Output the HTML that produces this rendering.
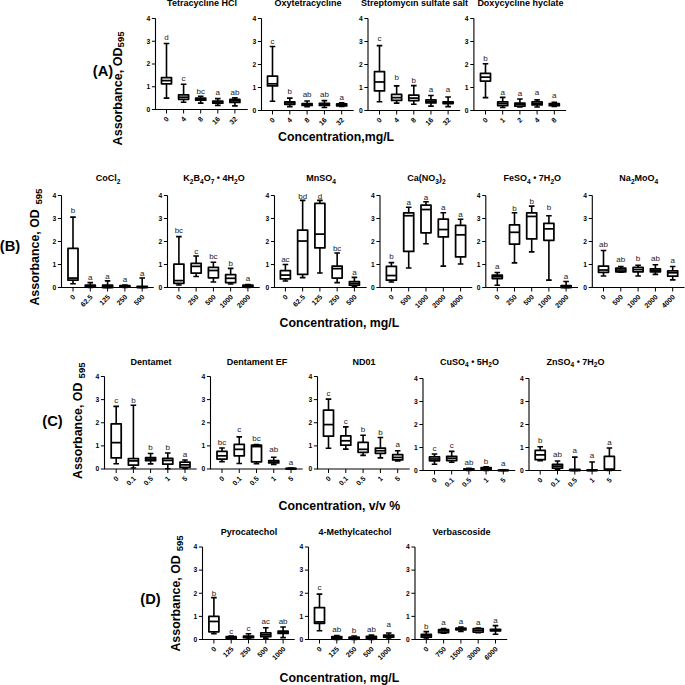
<!DOCTYPE html>
<html><head><meta charset="utf-8"><title>Figure</title>
<style>html,body{margin:0;padding:0;background:#fff;width:685px;height:685px;overflow:hidden}svg{display:block}text{font-family:"Liberation Sans",sans-serif}</style>
</head><body>
<svg width="685" height="685" viewBox="0 0 685 685" font-family='"Liberation Sans", sans-serif'>
<rect width="685" height="685" fill="#fff"/>
<path d="M155.5 18.5V109.5H247.7" fill="none" stroke="#000" stroke-width="1.1"/>
<path d="M151.9 109.5H155.5M151.9 86.75H155.5M151.9 64H155.5M151.9 41.25H155.5M151.9 18.5H155.5M166.5 109.5V113.5M183.6 109.5V113.5M200.7 109.5V113.5M217.8 109.5V113.5M234.9 109.5V113.5" fill="none" stroke="#000" stroke-width="1.0"/>
<text x="150.2" y="111.8" text-anchor="end" font-size="6.7" font-weight="bold">0</text>
<text x="150.2" y="89.05" text-anchor="end" font-size="6.7" font-weight="bold">1</text>
<text x="150.2" y="66.3" text-anchor="end" font-size="6.7" font-weight="bold">2</text>
<text x="150.2" y="43.55" text-anchor="end" font-size="6.7" font-weight="bold">3</text>
<text x="150.2" y="20.8" text-anchor="end" font-size="6.7" font-weight="bold">4</text>
<text transform="translate(169.3 119.6) rotate(-45)" text-anchor="end" font-size="7.0" font-weight="bold">0</text>
<text transform="translate(186.4 119.6) rotate(-45)" text-anchor="end" font-size="7.0" font-weight="bold">4</text>
<text transform="translate(203.5 119.6) rotate(-45)" text-anchor="end" font-size="7.0" font-weight="bold">8</text>
<text transform="translate(220.6 119.6) rotate(-45)" text-anchor="end" font-size="7.0" font-weight="bold">16</text>
<text transform="translate(237.7 119.6) rotate(-45)" text-anchor="end" font-size="7.0" font-weight="bold">32</text>
<path d="M166.5 77.65V43.53M163.7 43.53H169.3M166.5 83.79V98.12M163.7 98.12H169.3" fill="none" stroke="#000" stroke-width="1.6"/>
<rect x="161.5" y="77.65" width="10" height="6.14" fill="#fff" stroke="#000" stroke-width="1.75" stroke-linejoin="round"/>
<path d="M161.5 80.61H171.5" stroke="#000" stroke-width="1.75"/>
<text x="166.5" y="39.9" text-anchor="middle" font-size="8.0" fill="#222">d</text>
<path d="M183.6 94.94V84.25M180.8 84.25H186.4M183.6 99.26V102.22M180.8 102.22H186.4" fill="none" stroke="#000" stroke-width="1.6"/>
<rect x="178.6" y="94.94" width="10" height="4.32" fill="#fff" stroke="#000" stroke-width="1.75" stroke-linejoin="round"/>
<path d="M178.6 97.22H188.6" stroke="#000" stroke-width="1.75"/>
<text x="183.6" y="81" text-anchor="middle" font-size="8.0" fill="#222">c</text>
<path d="M200.7 98.12V96.31M197.9 96.31H203.5M200.7 100.17V103.13M197.9 103.13H203.5" fill="none" stroke="#000" stroke-width="1.6"/>
<rect x="195.7" y="98.12" width="10" height="2.05" fill="#fff" stroke="#000" stroke-width="1.75" stroke-linejoin="round"/>
<path d="M195.7 99.26H205.7" stroke="#000" stroke-width="1.75"/>
<text x="200.7" y="93.7" text-anchor="middle" font-size="8.0" fill="#222">bc</text>
<path d="M217.8 101.08V98.58M215 98.58H220.6M217.8 103.13V105.41M215 105.41H220.6" fill="none" stroke="#000" stroke-width="1.6"/>
<rect x="212.8" y="101.08" width="10" height="2.05" fill="#fff" stroke="#000" stroke-width="1.75" stroke-linejoin="round"/>
<path d="M212.8 101.99H222.8" stroke="#000" stroke-width="1.75"/>
<text x="217.8" y="94.7" text-anchor="middle" font-size="8.0" fill="#222">a</text>
<path d="M234.9 99.49V97.9M232.1 97.9H237.7M234.9 102.45V105.86M232.1 105.86H237.7" fill="none" stroke="#000" stroke-width="1.6"/>
<rect x="229.9" y="99.49" width="10" height="2.96" fill="#fff" stroke="#000" stroke-width="1.75" stroke-linejoin="round"/>
<path d="M229.9 100.86H239.9" stroke="#000" stroke-width="1.75"/>
<text x="234.9" y="94.7" text-anchor="middle" font-size="8.0" fill="#222">ab</text>
<text x="202" y="6.3" text-anchor="middle" font-size="9.0" font-weight="bold">Tetracycline HCl</text>
<path d="M261.5 18.5V110.5H353.7" fill="none" stroke="#000" stroke-width="1.1"/>
<path d="M257.9 110.5H261.5M257.9 87.5H261.5M257.9 64.5H261.5M257.9 41.5H261.5M257.9 18.5H261.5M272.5 110.5V114.5M289.8 110.5V114.5M307.1 110.5V114.5M324.4 110.5V114.5M341.7 110.5V114.5" fill="none" stroke="#000" stroke-width="1.0"/>
<text x="256.2" y="112.8" text-anchor="end" font-size="6.7" font-weight="bold">0</text>
<text x="256.2" y="89.8" text-anchor="end" font-size="6.7" font-weight="bold">1</text>
<text x="256.2" y="66.8" text-anchor="end" font-size="6.7" font-weight="bold">2</text>
<text x="256.2" y="43.8" text-anchor="end" font-size="6.7" font-weight="bold">3</text>
<text x="256.2" y="20.8" text-anchor="end" font-size="6.7" font-weight="bold">4</text>
<text transform="translate(275.3 120.6) rotate(-45)" text-anchor="end" font-size="7.0" font-weight="bold">0</text>
<text transform="translate(292.6 120.6) rotate(-45)" text-anchor="end" font-size="7.0" font-weight="bold">4</text>
<text transform="translate(309.9 120.6) rotate(-45)" text-anchor="end" font-size="7.0" font-weight="bold">8</text>
<text transform="translate(327.2 120.6) rotate(-45)" text-anchor="end" font-size="7.0" font-weight="bold">16</text>
<text transform="translate(344.5 120.6) rotate(-45)" text-anchor="end" font-size="7.0" font-weight="bold">32</text>
<path d="M272.5 76V46.56M269.7 46.56H275.3M272.5 85.89V101.3M269.7 101.3H275.3" fill="none" stroke="#000" stroke-width="1.6"/>
<rect x="267.5" y="76" width="10" height="9.89" fill="#fff" stroke="#000" stroke-width="1.75" stroke-linejoin="round"/>
<path d="M267.5 83.82H277.5" stroke="#000" stroke-width="1.75"/>
<text x="272.5" y="43.5" text-anchor="middle" font-size="8.0" fill="#222">c</text>
<path d="M289.8 101.76V98.08M287 98.08H292.6M289.8 104.29V106.59M287 106.59H292.6" fill="none" stroke="#000" stroke-width="1.6"/>
<rect x="284.8" y="101.76" width="10" height="2.53" fill="#fff" stroke="#000" stroke-width="1.75" stroke-linejoin="round"/>
<path d="M284.8 102.91H294.8" stroke="#000" stroke-width="1.75"/>
<text x="289.8" y="94.2" text-anchor="middle" font-size="8.0" fill="#222">b</text>
<path d="M307.1 103.6V101.07M304.3 101.07H309.9M307.1 105.44V106.82M304.3 106.82H309.9" fill="none" stroke="#000" stroke-width="1.6"/>
<rect x="302.1" y="103.6" width="10" height="1.84" fill="#fff" stroke="#000" stroke-width="1.75" stroke-linejoin="round"/>
<path d="M302.1 104.29H312.1" stroke="#000" stroke-width="1.75"/>
<text x="307.1" y="97.1" text-anchor="middle" font-size="8.0" fill="#222">ab</text>
<path d="M324.4 103.37V100.61M321.6 100.61H327.2M324.4 105.44V107.51M321.6 107.51H327.2" fill="none" stroke="#000" stroke-width="1.6"/>
<rect x="319.4" y="103.37" width="10" height="2.07" fill="#fff" stroke="#000" stroke-width="1.75" stroke-linejoin="round"/>
<path d="M319.4 104.29H329.4" stroke="#000" stroke-width="1.75"/>
<text x="324.4" y="97.1" text-anchor="middle" font-size="8.0" fill="#222">ab</text>
<path d="M341.7 103.83V102.91M338.9 102.91H344.5M341.7 105.9V106.36M338.9 106.36H344.5" fill="none" stroke="#000" stroke-width="1.6"/>
<rect x="336.7" y="103.83" width="10" height="2.07" fill="#fff" stroke="#000" stroke-width="1.75" stroke-linejoin="round"/>
<path d="M336.7 104.75H346.7" stroke="#000" stroke-width="1.75"/>
<text x="341.7" y="99.5" text-anchor="middle" font-size="8.0" fill="#222">a</text>
<text x="308" y="6.3" text-anchor="middle" font-size="9.0" font-weight="bold">Oxytetracycline</text>
<path d="M368 18.5V110.5H460.2" fill="none" stroke="#000" stroke-width="1.1"/>
<path d="M364.4 110.5H368M364.4 87.5H368M364.4 64.5H368M364.4 41.5H368M364.4 18.5H368M379.5 110.5V114.5M396.65 110.5V114.5M413.8 110.5V114.5M430.95 110.5V114.5M448.1 110.5V114.5" fill="none" stroke="#000" stroke-width="1.0"/>
<text x="362.7" y="112.8" text-anchor="end" font-size="6.7" font-weight="bold">0</text>
<text x="362.7" y="89.8" text-anchor="end" font-size="6.7" font-weight="bold">1</text>
<text x="362.7" y="66.8" text-anchor="end" font-size="6.7" font-weight="bold">2</text>
<text x="362.7" y="43.8" text-anchor="end" font-size="6.7" font-weight="bold">3</text>
<text x="362.7" y="20.8" text-anchor="end" font-size="6.7" font-weight="bold">4</text>
<text transform="translate(382.3 120.6) rotate(-45)" text-anchor="end" font-size="7.0" font-weight="bold">0</text>
<text transform="translate(399.45 120.6) rotate(-45)" text-anchor="end" font-size="7.0" font-weight="bold">4</text>
<text transform="translate(416.6 120.6) rotate(-45)" text-anchor="end" font-size="7.0" font-weight="bold">8</text>
<text transform="translate(433.75 120.6) rotate(-45)" text-anchor="end" font-size="7.0" font-weight="bold">16</text>
<text transform="translate(450.9 120.6) rotate(-45)" text-anchor="end" font-size="7.0" font-weight="bold">32</text>
<path d="M379.5 71.63V45.64M376.7 45.64H382.3M379.5 90.95V101.76M376.7 101.76H382.3" fill="none" stroke="#000" stroke-width="1.6"/>
<rect x="374.5" y="71.63" width="10" height="19.32" fill="#fff" stroke="#000" stroke-width="1.75" stroke-linejoin="round"/>
<path d="M374.5 81.98H384.5" stroke="#000" stroke-width="1.75"/>
<text x="379.5" y="40.9" text-anchor="middle" font-size="8.0" fill="#222">c</text>
<path d="M396.65 94.4V85.89M393.85 85.89H399.45M396.65 100.38V103.14M393.85 103.14H399.45" fill="none" stroke="#000" stroke-width="1.6"/>
<rect x="391.65" y="94.4" width="10" height="5.98" fill="#fff" stroke="#000" stroke-width="1.75" stroke-linejoin="round"/>
<path d="M391.65 97.62H401.65" stroke="#000" stroke-width="1.75"/>
<text x="396.65" y="79.9" text-anchor="middle" font-size="8.0" fill="#222">b</text>
<path d="M413.8 95.09V85.66M411 85.66H416.6M413.8 100.61V104.29M411 104.29H416.6" fill="none" stroke="#000" stroke-width="1.6"/>
<rect x="408.8" y="95.09" width="10" height="5.52" fill="#fff" stroke="#000" stroke-width="1.75" stroke-linejoin="round"/>
<path d="M408.8 98.08H418.8" stroke="#000" stroke-width="1.75"/>
<text x="413.8" y="83.2" text-anchor="middle" font-size="8.0" fill="#222">b</text>
<path d="M430.95 99.92V95.55M428.15 95.55H433.75M430.95 102.91V106.13M428.15 106.13H433.75" fill="none" stroke="#000" stroke-width="1.6"/>
<rect x="425.95" y="99.92" width="10" height="2.99" fill="#fff" stroke="#000" stroke-width="1.75" stroke-linejoin="round"/>
<path d="M425.95 101.3H435.95" stroke="#000" stroke-width="1.75"/>
<text x="430.95" y="92.4" text-anchor="middle" font-size="8.0" fill="#222">a</text>
<path d="M448.1 101.76V96.93M445.3 96.93H450.9M448.1 103.6V106.59M445.3 106.59H450.9" fill="none" stroke="#000" stroke-width="1.6"/>
<rect x="443.1" y="101.76" width="10" height="1.84" fill="#fff" stroke="#000" stroke-width="1.75" stroke-linejoin="round"/>
<path d="M443.1 102.68H453.1" stroke="#000" stroke-width="1.75"/>
<text x="448.1" y="92.4" text-anchor="middle" font-size="8.0" fill="#222">a</text>
<text x="414.5" y="6.3" text-anchor="middle" font-size="9.0" font-weight="bold">Streptomycin sulfate salt</text>
<path d="M473.9 18.5V110.5H566.1" fill="none" stroke="#000" stroke-width="1.1"/>
<path d="M470.3 110.5H473.9M470.3 87.5H473.9M470.3 64.5H473.9M470.3 41.5H473.9M470.3 18.5H473.9M485.5 110.5V114.5M502.7 110.5V114.5M519.9 110.5V114.5M537.1 110.5V114.5M554.3 110.5V114.5" fill="none" stroke="#000" stroke-width="1.0"/>
<text x="468.6" y="112.8" text-anchor="end" font-size="6.7" font-weight="bold">0</text>
<text x="468.6" y="89.8" text-anchor="end" font-size="6.7" font-weight="bold">1</text>
<text x="468.6" y="66.8" text-anchor="end" font-size="6.7" font-weight="bold">2</text>
<text x="468.6" y="43.8" text-anchor="end" font-size="6.7" font-weight="bold">3</text>
<text x="468.6" y="20.8" text-anchor="end" font-size="6.7" font-weight="bold">4</text>
<text transform="translate(488.3 120.6) rotate(-45)" text-anchor="end" font-size="7.0" font-weight="bold">0</text>
<text transform="translate(505.5 120.6) rotate(-45)" text-anchor="end" font-size="7.0" font-weight="bold">1</text>
<text transform="translate(522.7 120.6) rotate(-45)" text-anchor="end" font-size="7.0" font-weight="bold">2</text>
<text transform="translate(539.9 120.6) rotate(-45)" text-anchor="end" font-size="7.0" font-weight="bold">4</text>
<text transform="translate(557.1 120.6) rotate(-45)" text-anchor="end" font-size="7.0" font-weight="bold">8</text>
<path d="M485.5 73.47V63.81M482.7 63.81H488.3M485.5 81.06V97.62M482.7 97.62H488.3" fill="none" stroke="#000" stroke-width="1.6"/>
<rect x="480.5" y="73.47" width="10" height="7.59" fill="#fff" stroke="#000" stroke-width="1.75" stroke-linejoin="round"/>
<path d="M480.5 77.15H490.5" stroke="#000" stroke-width="1.75"/>
<text x="485.5" y="61.2" text-anchor="middle" font-size="8.0" fill="#222">b</text>
<path d="M502.7 101.76V97.39M499.9 97.39H505.5M502.7 105.67V107.51M499.9 107.51H505.5" fill="none" stroke="#000" stroke-width="1.6"/>
<rect x="497.7" y="101.76" width="10" height="3.91" fill="#fff" stroke="#000" stroke-width="1.75" stroke-linejoin="round"/>
<path d="M497.7 103.6H507.7" stroke="#000" stroke-width="1.75"/>
<text x="502.7" y="94.7" text-anchor="middle" font-size="8.0" fill="#222">a</text>
<path d="M519.9 103.14V99M517.1 99H522.7M519.9 106.13V107.05M517.1 107.05H522.7" fill="none" stroke="#000" stroke-width="1.6"/>
<rect x="514.9" y="103.14" width="10" height="2.99" fill="#fff" stroke="#000" stroke-width="1.75" stroke-linejoin="round"/>
<path d="M514.9 104.29H524.9" stroke="#000" stroke-width="1.75"/>
<text x="519.9" y="96.3" text-anchor="middle" font-size="8.0" fill="#222">a</text>
<path d="M537.1 101.99V99.92M534.3 99.92H539.9M537.1 104.98V107.05M534.3 107.05H539.9" fill="none" stroke="#000" stroke-width="1.6"/>
<rect x="532.1" y="101.99" width="10" height="2.99" fill="#fff" stroke="#000" stroke-width="1.75" stroke-linejoin="round"/>
<path d="M532.1 103.6H542.1" stroke="#000" stroke-width="1.75"/>
<text x="537.1" y="95.3" text-anchor="middle" font-size="8.0" fill="#222">a</text>
<path d="M554.3 103.6V102.22M551.5 102.22H557.1M554.3 105.67V106.36M551.5 106.36H557.1" fill="none" stroke="#000" stroke-width="1.6"/>
<rect x="549.3" y="103.6" width="10" height="2.07" fill="#fff" stroke="#000" stroke-width="1.75" stroke-linejoin="round"/>
<path d="M549.3 104.52H559.3" stroke="#000" stroke-width="1.75"/>
<text x="554.3" y="97.6" text-anchor="middle" font-size="8.0" fill="#222">a</text>
<text x="520.4" y="6.3" text-anchor="middle" font-size="9.0" font-weight="bold">Doxycycline hyclate</text>
<path d="M61.5 195.5V287.5H153.7" fill="none" stroke="#000" stroke-width="1.1"/>
<path d="M57.9 287.5H61.5M57.9 264.5H61.5M57.9 241.5H61.5M57.9 218.5H61.5M57.9 195.5H61.5M73 287.5V291.5M90.3 287.5V291.5M107.6 287.5V291.5M124.9 287.5V291.5M142.2 287.5V291.5" fill="none" stroke="#000" stroke-width="1.0"/>
<text x="56.2" y="289.8" text-anchor="end" font-size="6.7" font-weight="bold">0</text>
<text x="56.2" y="266.8" text-anchor="end" font-size="6.7" font-weight="bold">1</text>
<text x="56.2" y="243.8" text-anchor="end" font-size="6.7" font-weight="bold">2</text>
<text x="56.2" y="220.8" text-anchor="end" font-size="6.7" font-weight="bold">3</text>
<text x="56.2" y="197.8" text-anchor="end" font-size="6.7" font-weight="bold">4</text>
<text transform="translate(75.8 297.6) rotate(-45)" text-anchor="end" font-size="7.0" font-weight="bold">0</text>
<text transform="translate(93.1 297.6) rotate(-45)" text-anchor="end" font-size="7.0" font-weight="bold">62.5</text>
<text transform="translate(110.4 297.6) rotate(-45)" text-anchor="end" font-size="7.0" font-weight="bold">125</text>
<text transform="translate(127.7 297.6) rotate(-45)" text-anchor="end" font-size="7.0" font-weight="bold">250</text>
<text transform="translate(145 297.6) rotate(-45)" text-anchor="end" font-size="7.0" font-weight="bold">500</text>
<path d="M73 248.4V217.12M70.2 217.12H75.8M73 280.14V283.82M70.2 283.82H75.8" fill="none" stroke="#000" stroke-width="1.6"/>
<rect x="68" y="248.4" width="10" height="31.74" fill="#fff" stroke="#000" stroke-width="1.75" stroke-linejoin="round"/>
<path d="M68 278.07H78" stroke="#000" stroke-width="1.75"/>
<text x="73" y="212.7" text-anchor="middle" font-size="8.0" fill="#222">b</text>
<path d="M90.3 285.2V282.67M87.5 282.67H93.1M90.3 287.04V287.5M87.5 287.5H93.1" fill="none" stroke="#000" stroke-width="1.6"/>
<rect x="85.3" y="285.2" width="10" height="1.84" fill="#fff" stroke="#000" stroke-width="1.75" stroke-linejoin="round"/>
<path d="M85.3 286.35H95.3" stroke="#000" stroke-width="1.75"/>
<text x="90.3" y="279.5" text-anchor="middle" font-size="8.0" fill="#222">a</text>
<path d="M107.6 285.2V280.83M104.8 280.83H110.4M107.6 287.5V287.5M104.8 287.5H110.4" fill="none" stroke="#000" stroke-width="1.6"/>
<rect x="102.6" y="285.2" width="10" height="2.3" fill="#fff" stroke="#000" stroke-width="1.75" stroke-linejoin="round"/>
<path d="M102.6 286.35H112.6" stroke="#000" stroke-width="1.75"/>
<text x="107.6" y="278.6" text-anchor="middle" font-size="8.0" fill="#222">a</text>
<path d="M124.9 285.66V284.97M122.1 284.97H127.7M124.9 287.04V287.5M122.1 287.5H127.7" fill="none" stroke="#000" stroke-width="1.6"/>
<rect x="119.9" y="285.66" width="10" height="1.38" fill="#fff" stroke="#000" stroke-width="1.75" stroke-linejoin="round"/>
<path d="M119.9 286.35H129.9" stroke="#000" stroke-width="1.75"/>
<text x="124.9" y="281.5" text-anchor="middle" font-size="8.0" fill="#222">a</text>
<path d="M142.2 286.35V278.07M139.4 278.07H145M142.2 287.5V287.5M139.4 287.5H145" fill="none" stroke="#000" stroke-width="1.6"/>
<rect x="137.2" y="286.35" width="10" height="1.15" fill="#fff" stroke="#000" stroke-width="1.75" stroke-linejoin="round"/>
<path d="M137.2 287.04H147.2" stroke="#000" stroke-width="1.75"/>
<text x="142.2" y="275.6" text-anchor="middle" font-size="8.0" fill="#222">a</text>
<text x="108" y="181.3" text-anchor="middle" font-size="9.0" font-weight="bold">CoCl<tspan font-size="6.6" dy="2.2">2</tspan></text>
<path d="M167.5 195.5V287.5H259.7" fill="none" stroke="#000" stroke-width="1.1"/>
<path d="M163.9 287.5H167.5M163.9 264.5H167.5M163.9 241.5H167.5M163.9 218.5H167.5M163.9 195.5H167.5M178.9 287.5V291.5M196.15 287.5V291.5M213.4 287.5V291.5M230.65 287.5V291.5M247.9 287.5V291.5" fill="none" stroke="#000" stroke-width="1.0"/>
<text x="162.2" y="289.8" text-anchor="end" font-size="6.7" font-weight="bold">0</text>
<text x="162.2" y="266.8" text-anchor="end" font-size="6.7" font-weight="bold">1</text>
<text x="162.2" y="243.8" text-anchor="end" font-size="6.7" font-weight="bold">2</text>
<text x="162.2" y="220.8" text-anchor="end" font-size="6.7" font-weight="bold">3</text>
<text x="162.2" y="197.8" text-anchor="end" font-size="6.7" font-weight="bold">4</text>
<text transform="translate(181.7 297.6) rotate(-45)" text-anchor="end" font-size="7.0" font-weight="bold">0</text>
<text transform="translate(198.95 297.6) rotate(-45)" text-anchor="end" font-size="7.0" font-weight="bold">250</text>
<text transform="translate(216.2 297.6) rotate(-45)" text-anchor="end" font-size="7.0" font-weight="bold">500</text>
<text transform="translate(233.45 297.6) rotate(-45)" text-anchor="end" font-size="7.0" font-weight="bold">1000</text>
<text transform="translate(250.7 297.6) rotate(-45)" text-anchor="end" font-size="7.0" font-weight="bold">2000</text>
<path d="M178.9 264.04V236.67M176.1 236.67H181.7M178.9 283.36V284.97M176.1 284.97H181.7" fill="none" stroke="#000" stroke-width="1.6"/>
<rect x="173.9" y="264.04" width="10" height="19.32" fill="#fff" stroke="#000" stroke-width="1.75" stroke-linejoin="round"/>
<path d="M173.9 280.6H183.9" stroke="#000" stroke-width="1.75"/>
<text x="178.9" y="232.7" text-anchor="middle" font-size="8.0" fill="#222">bc</text>
<path d="M196.15 263.35V255.99M193.35 255.99H198.95M196.15 273.01V276.46M193.35 276.46H198.95" fill="none" stroke="#000" stroke-width="1.6"/>
<rect x="191.15" y="263.35" width="10" height="9.66" fill="#fff" stroke="#000" stroke-width="1.75" stroke-linejoin="round"/>
<path d="M191.15 266.34H201.15" stroke="#000" stroke-width="1.75"/>
<text x="196.15" y="253.8" text-anchor="middle" font-size="8.0" fill="#222">c</text>
<path d="M213.4 267.26V262.2M210.6 262.2H216.2M213.4 277.84V281.98M210.6 281.98H216.2" fill="none" stroke="#000" stroke-width="1.6"/>
<rect x="208.4" y="267.26" width="10" height="10.58" fill="#fff" stroke="#000" stroke-width="1.75" stroke-linejoin="round"/>
<path d="M208.4 270.48H218.4" stroke="#000" stroke-width="1.75"/>
<text x="213.4" y="259" text-anchor="middle" font-size="8.0" fill="#222">bc</text>
<path d="M230.65 274.62V268.41M227.85 268.41H233.45M230.65 282.67V284.05M227.85 284.05H233.45" fill="none" stroke="#000" stroke-width="1.6"/>
<rect x="225.65" y="274.62" width="10" height="8.05" fill="#fff" stroke="#000" stroke-width="1.75" stroke-linejoin="round"/>
<path d="M225.65 278.3H235.65" stroke="#000" stroke-width="1.75"/>
<text x="230.65" y="266" text-anchor="middle" font-size="8.0" fill="#222">b</text>
<path d="M247.9 285.2V284.51M245.1 284.51H250.7M247.9 286.81V287.5M245.1 287.5H250.7" fill="none" stroke="#000" stroke-width="1.6"/>
<rect x="242.9" y="285.2" width="10" height="1.61" fill="#fff" stroke="#000" stroke-width="1.75" stroke-linejoin="round"/>
<path d="M242.9 286.12H252.9" stroke="#000" stroke-width="1.75"/>
<text x="247.9" y="281.4" text-anchor="middle" font-size="8.0" fill="#222">a</text>
<text x="214" y="181.3" text-anchor="middle" font-size="9.0" font-weight="bold">K<tspan font-size="6.6" dy="2.2">2</tspan><tspan dy="-2.2">B</tspan><tspan font-size="6.6" dy="2.2">4</tspan><tspan dy="-2.2">O</tspan><tspan font-size="6.6" dy="2.2">7</tspan><tspan dy="-2.2"> • 4H</tspan><tspan font-size="6.6" dy="2.2">2</tspan><tspan dy="-2.2">O</tspan></text>
<path d="M274.5 195.5V287.5H366.7" fill="none" stroke="#000" stroke-width="1.1"/>
<path d="M270.9 287.5H274.5M270.9 264.5H274.5M270.9 241.5H274.5M270.9 218.5H274.5M270.9 195.5H274.5M285.4 287.5V291.5M302.65 287.5V291.5M319.9 287.5V291.5M337.15 287.5V291.5M354.4 287.5V291.5" fill="none" stroke="#000" stroke-width="1.0"/>
<text x="269.2" y="289.8" text-anchor="end" font-size="6.7" font-weight="bold">0</text>
<text x="269.2" y="266.8" text-anchor="end" font-size="6.7" font-weight="bold">1</text>
<text x="269.2" y="243.8" text-anchor="end" font-size="6.7" font-weight="bold">2</text>
<text x="269.2" y="220.8" text-anchor="end" font-size="6.7" font-weight="bold">3</text>
<text x="269.2" y="197.8" text-anchor="end" font-size="6.7" font-weight="bold">4</text>
<text transform="translate(288.2 297.6) rotate(-45)" text-anchor="end" font-size="7.0" font-weight="bold">0</text>
<text transform="translate(305.45 297.6) rotate(-45)" text-anchor="end" font-size="7.0" font-weight="bold">62.5</text>
<text transform="translate(322.7 297.6) rotate(-45)" text-anchor="end" font-size="7.0" font-weight="bold">125</text>
<text transform="translate(339.95 297.6) rotate(-45)" text-anchor="end" font-size="7.0" font-weight="bold">250</text>
<text transform="translate(357.2 297.6) rotate(-45)" text-anchor="end" font-size="7.0" font-weight="bold">500</text>
<path d="M285.4 270.71V264.5M282.6 264.5H288.2M285.4 278.99V281.06M282.6 281.06H288.2" fill="none" stroke="#000" stroke-width="1.6"/>
<rect x="280.4" y="270.71" width="10" height="8.28" fill="#fff" stroke="#000" stroke-width="1.75" stroke-linejoin="round"/>
<path d="M280.4 275.08H290.4" stroke="#000" stroke-width="1.75"/>
<text x="285.4" y="262" text-anchor="middle" font-size="8.0" fill="#222">ac</text>
<path d="M302.65 230V200.33M299.85 200.33H305.45M302.65 274.39V277.61M299.85 277.61H305.45" fill="none" stroke="#000" stroke-width="1.6"/>
<rect x="297.65" y="230" width="10" height="44.39" fill="#fff" stroke="#000" stroke-width="1.75" stroke-linejoin="round"/>
<path d="M297.65 241.04H307.65" stroke="#000" stroke-width="1.75"/>
<text x="302.65" y="198.5" text-anchor="middle" font-size="8.0" fill="#222">bd</text>
<path d="M319.9 203.32V200.33M317.1 200.33H322.7M319.9 247.94V273.01M317.1 273.01H322.7" fill="none" stroke="#000" stroke-width="1.6"/>
<rect x="314.9" y="203.32" width="10" height="44.62" fill="#fff" stroke="#000" stroke-width="1.75" stroke-linejoin="round"/>
<path d="M314.9 234.14H324.9" stroke="#000" stroke-width="1.75"/>
<text x="319.9" y="198.5" text-anchor="middle" font-size="8.0" fill="#222">d</text>
<path d="M337.15 266.11V253M334.35 253H339.95M337.15 278.07V282.67M334.35 282.67H339.95" fill="none" stroke="#000" stroke-width="1.6"/>
<rect x="332.15" y="266.11" width="10" height="11.96" fill="#fff" stroke="#000" stroke-width="1.75" stroke-linejoin="round"/>
<path d="M332.15 268.64H342.15" stroke="#000" stroke-width="1.75"/>
<text x="337.15" y="250.6" text-anchor="middle" font-size="8.0" fill="#222">bc</text>
<path d="M354.4 281.52V277.38M351.6 277.38H357.2M354.4 285.2V286.12M351.6 286.12H357.2" fill="none" stroke="#000" stroke-width="1.6"/>
<rect x="349.4" y="281.52" width="10" height="3.68" fill="#fff" stroke="#000" stroke-width="1.75" stroke-linejoin="round"/>
<path d="M349.4 283.36H359.4" stroke="#000" stroke-width="1.75"/>
<text x="354.4" y="274.7" text-anchor="middle" font-size="8.0" fill="#222">a</text>
<text x="321" y="181.3" text-anchor="middle" font-size="9.0" font-weight="bold">MnSO<tspan font-size="6.6" dy="2.2">4</tspan></text>
<path d="M380 195.5V287.5H472.2" fill="none" stroke="#000" stroke-width="1.1"/>
<path d="M376.4 287.5H380M376.4 264.5H380M376.4 241.5H380M376.4 218.5H380M376.4 195.5H380M391.4 287.5V291.5M408.7 287.5V291.5M426 287.5V291.5M443.3 287.5V291.5M460.6 287.5V291.5" fill="none" stroke="#000" stroke-width="1.0"/>
<text x="374.7" y="289.8" text-anchor="end" font-size="6.7" font-weight="bold">0</text>
<text x="374.7" y="266.8" text-anchor="end" font-size="6.7" font-weight="bold">1</text>
<text x="374.7" y="243.8" text-anchor="end" font-size="6.7" font-weight="bold">2</text>
<text x="374.7" y="220.8" text-anchor="end" font-size="6.7" font-weight="bold">3</text>
<text x="374.7" y="197.8" text-anchor="end" font-size="6.7" font-weight="bold">4</text>
<text transform="translate(394.2 297.6) rotate(-45)" text-anchor="end" font-size="7.0" font-weight="bold">0</text>
<text transform="translate(411.5 297.6) rotate(-45)" text-anchor="end" font-size="7.0" font-weight="bold">500</text>
<text transform="translate(428.8 297.6) rotate(-45)" text-anchor="end" font-size="7.0" font-weight="bold">1000</text>
<text transform="translate(446.1 297.6) rotate(-45)" text-anchor="end" font-size="7.0" font-weight="bold">2000</text>
<text transform="translate(463.4 297.6) rotate(-45)" text-anchor="end" font-size="7.0" font-weight="bold">4000</text>
<path d="M391.4 266.34V262.66M388.6 262.66H394.2M391.4 280.14V281.98M388.6 281.98H394.2" fill="none" stroke="#000" stroke-width="1.6"/>
<rect x="386.4" y="266.34" width="10" height="13.8" fill="#fff" stroke="#000" stroke-width="1.75" stroke-linejoin="round"/>
<path d="M386.4 275.54H396.4" stroke="#000" stroke-width="1.75"/>
<text x="391.4" y="259.4" text-anchor="middle" font-size="8.0" fill="#222">b</text>
<path d="M408.7 212.75V207.23M405.9 207.23H411.5M408.7 251.39V267.95M405.9 267.95H411.5" fill="none" stroke="#000" stroke-width="1.6"/>
<rect x="403.7" y="212.75" width="10" height="38.64" fill="#fff" stroke="#000" stroke-width="1.75" stroke-linejoin="round"/>
<path d="M403.7 215.74H413.7" stroke="#000" stroke-width="1.75"/>
<text x="408.7" y="204.5" text-anchor="middle" font-size="8.0" fill="#222">a</text>
<path d="M426 205.16V201.71M423.2 201.71H428.8M426 232.76V243.8M423.2 243.8H428.8" fill="none" stroke="#000" stroke-width="1.6"/>
<rect x="421" y="205.16" width="10" height="27.6" fill="#fff" stroke="#000" stroke-width="1.75" stroke-linejoin="round"/>
<path d="M421 209.53H431" stroke="#000" stroke-width="1.75"/>
<text x="426" y="199.6" text-anchor="middle" font-size="8.0" fill="#222">a</text>
<path d="M443.3 219.19V212.75M440.5 212.75H446.1M443.3 236.9V266.11M440.5 266.11H446.1" fill="none" stroke="#000" stroke-width="1.6"/>
<rect x="438.3" y="219.19" width="10" height="17.71" fill="#fff" stroke="#000" stroke-width="1.75" stroke-linejoin="round"/>
<path d="M438.3 229.54H448.3" stroke="#000" stroke-width="1.75"/>
<text x="443.3" y="210" text-anchor="middle" font-size="8.0" fill="#222">a</text>
<path d="M460.6 225.4V219.19M457.8 219.19H463.4M460.6 256.91V264.04M457.8 264.04H463.4" fill="none" stroke="#000" stroke-width="1.6"/>
<rect x="455.6" y="225.4" width="10" height="31.51" fill="#fff" stroke="#000" stroke-width="1.75" stroke-linejoin="round"/>
<path d="M455.6 234.83H465.6" stroke="#000" stroke-width="1.75"/>
<text x="460.6" y="216.7" text-anchor="middle" font-size="8.0" fill="#222">a</text>
<text x="426.5" y="181.3" text-anchor="middle" font-size="9.0" font-weight="bold">Ca(NO<tspan font-size="6.6" dy="2.2">3</tspan><tspan dy="-2.2">)</tspan><tspan font-size="6.6" dy="2.2">2</tspan></text>
<path d="M485.8 195.5V287.5H578" fill="none" stroke="#000" stroke-width="1.1"/>
<path d="M482.2 287.5H485.8M482.2 264.5H485.8M482.2 241.5H485.8M482.2 218.5H485.8M482.2 195.5H485.8M497.3 287.5V291.5M514.5 287.5V291.5M531.7 287.5V291.5M548.9 287.5V291.5M566.1 287.5V291.5" fill="none" stroke="#000" stroke-width="1.0"/>
<text x="480.5" y="289.8" text-anchor="end" font-size="6.7" font-weight="bold">0</text>
<text x="480.5" y="266.8" text-anchor="end" font-size="6.7" font-weight="bold">1</text>
<text x="480.5" y="243.8" text-anchor="end" font-size="6.7" font-weight="bold">2</text>
<text x="480.5" y="220.8" text-anchor="end" font-size="6.7" font-weight="bold">3</text>
<text x="480.5" y="197.8" text-anchor="end" font-size="6.7" font-weight="bold">4</text>
<text transform="translate(500.1 297.6) rotate(-45)" text-anchor="end" font-size="7.0" font-weight="bold">0</text>
<text transform="translate(517.3 297.6) rotate(-45)" text-anchor="end" font-size="7.0" font-weight="bold">250</text>
<text transform="translate(534.5 297.6) rotate(-45)" text-anchor="end" font-size="7.0" font-weight="bold">500</text>
<text transform="translate(551.7 297.6) rotate(-45)" text-anchor="end" font-size="7.0" font-weight="bold">1000</text>
<text transform="translate(568.9 297.6) rotate(-45)" text-anchor="end" font-size="7.0" font-weight="bold">2000</text>
<path d="M497.3 275.08V272.55M494.5 272.55H500.1M497.3 278.53V285.2M494.5 285.2H500.1" fill="none" stroke="#000" stroke-width="1.6"/>
<rect x="492.3" y="275.08" width="10" height="3.45" fill="#fff" stroke="#000" stroke-width="1.75" stroke-linejoin="round"/>
<path d="M492.3 276.69H502.3" stroke="#000" stroke-width="1.75"/>
<text x="497.3" y="269.4" text-anchor="middle" font-size="8.0" fill="#222">a</text>
<path d="M514.5 224.94V212.75M511.7 212.75H517.3M514.5 244.03V262.89M511.7 262.89H517.3" fill="none" stroke="#000" stroke-width="1.6"/>
<rect x="509.5" y="224.94" width="10" height="19.09" fill="#fff" stroke="#000" stroke-width="1.75" stroke-linejoin="round"/>
<path d="M509.5 232.3H519.5" stroke="#000" stroke-width="1.75"/>
<text x="514.5" y="210.6" text-anchor="middle" font-size="8.0" fill="#222">b</text>
<path d="M531.7 212.75V206.08M528.9 206.08H534.5M531.7 238.97V251.85M528.9 251.85H534.5" fill="none" stroke="#000" stroke-width="1.6"/>
<rect x="526.7" y="212.75" width="10" height="26.22" fill="#fff" stroke="#000" stroke-width="1.75" stroke-linejoin="round"/>
<path d="M526.7 216.43H536.7" stroke="#000" stroke-width="1.75"/>
<text x="531.7" y="203.7" text-anchor="middle" font-size="8.0" fill="#222">b</text>
<path d="M548.9 223.33V215.74M546.1 215.74H551.7M548.9 240.35V280.14M546.1 280.14H551.7" fill="none" stroke="#000" stroke-width="1.6"/>
<rect x="543.9" y="223.33" width="10" height="17.02" fill="#fff" stroke="#000" stroke-width="1.75" stroke-linejoin="round"/>
<path d="M543.9 228.85H553.9" stroke="#000" stroke-width="1.75"/>
<text x="548.9" y="210.3" text-anchor="middle" font-size="8.0" fill="#222">b</text>
<path d="M566.1 285.66V281.52M563.3 281.52H568.9M566.1 287.5V287.5M563.3 287.5H568.9" fill="none" stroke="#000" stroke-width="1.6"/>
<rect x="561.1" y="285.66" width="10" height="1.84" fill="#fff" stroke="#000" stroke-width="1.75" stroke-linejoin="round"/>
<path d="M561.1 286.81H571.1" stroke="#000" stroke-width="1.75"/>
<text x="566.1" y="279.3" text-anchor="middle" font-size="8.0" fill="#222">a</text>
<text x="532.3" y="181.3" text-anchor="middle" font-size="9.0" font-weight="bold">FeSO<tspan font-size="6.6" dy="2.2">4</tspan><tspan dy="-2.2"> • 7H</tspan><tspan font-size="6.6" dy="2.2">2</tspan><tspan dy="-2.2">O</tspan></text>
<path d="M592.3 195.5V287.5H684.5" fill="none" stroke="#000" stroke-width="1.1"/>
<path d="M588.7 287.5H592.3M588.7 264.5H592.3M588.7 241.5H592.3M588.7 218.5H592.3M588.7 195.5H592.3M603.5 287.5V291.5M620.8 287.5V291.5M638.1 287.5V291.5M655.4 287.5V291.5M672.7 287.5V291.5" fill="none" stroke="#000" stroke-width="1.0"/>
<text x="587" y="289.8" text-anchor="end" font-size="6.7" font-weight="bold">0</text>
<text x="587" y="266.8" text-anchor="end" font-size="6.7" font-weight="bold">1</text>
<text x="587" y="243.8" text-anchor="end" font-size="6.7" font-weight="bold">2</text>
<text x="587" y="220.8" text-anchor="end" font-size="6.7" font-weight="bold">3</text>
<text x="587" y="197.8" text-anchor="end" font-size="6.7" font-weight="bold">4</text>
<text transform="translate(606.3 297.6) rotate(-45)" text-anchor="end" font-size="7.0" font-weight="bold">0</text>
<text transform="translate(623.6 297.6) rotate(-45)" text-anchor="end" font-size="7.0" font-weight="bold">500</text>
<text transform="translate(640.9 297.6) rotate(-45)" text-anchor="end" font-size="7.0" font-weight="bold">1000</text>
<text transform="translate(658.2 297.6) rotate(-45)" text-anchor="end" font-size="7.0" font-weight="bold">2000</text>
<text transform="translate(675.5 297.6) rotate(-45)" text-anchor="end" font-size="7.0" font-weight="bold">4000</text>
<path d="M603.5 266.11V250.47M600.7 250.47H606.3M603.5 272.32V276M600.7 276H606.3" fill="none" stroke="#000" stroke-width="1.6"/>
<rect x="598.5" y="266.11" width="10" height="6.21" fill="#fff" stroke="#000" stroke-width="1.75" stroke-linejoin="round"/>
<path d="M598.5 270.02H608.5" stroke="#000" stroke-width="1.75"/>
<text x="603.5" y="246.8" text-anchor="middle" font-size="8.0" fill="#222">ab</text>
<path d="M620.8 268.18V266.57M618 266.57H623.6M620.8 271.86V272.32M618 272.32H623.6" fill="none" stroke="#000" stroke-width="1.6"/>
<rect x="615.8" y="268.18" width="10" height="3.68" fill="#fff" stroke="#000" stroke-width="1.75" stroke-linejoin="round"/>
<path d="M615.8 270.02H625.8" stroke="#000" stroke-width="1.75"/>
<text x="620.8" y="262.2" text-anchor="middle" font-size="8.0" fill="#222">ab</text>
<path d="M638.1 267.26V265.19M635.3 265.19H640.9M638.1 271.86V276M635.3 276H640.9" fill="none" stroke="#000" stroke-width="1.6"/>
<rect x="633.1" y="267.26" width="10" height="4.6" fill="#fff" stroke="#000" stroke-width="1.75" stroke-linejoin="round"/>
<path d="M633.1 269.56H643.1" stroke="#000" stroke-width="1.75"/>
<text x="638.1" y="261.1" text-anchor="middle" font-size="8.0" fill="#222">b</text>
<path d="M655.4 268.87V264.73M652.6 264.73H658.2M655.4 271.86V274.39M652.6 274.39H658.2" fill="none" stroke="#000" stroke-width="1.6"/>
<rect x="650.4" y="268.87" width="10" height="2.99" fill="#fff" stroke="#000" stroke-width="1.75" stroke-linejoin="round"/>
<path d="M650.4 270.25H660.4" stroke="#000" stroke-width="1.75"/>
<text x="655.4" y="261.1" text-anchor="middle" font-size="8.0" fill="#222">ab</text>
<path d="M672.7 270.94V266.57M669.9 266.57H675.5M672.7 276.23V279.91M669.9 279.91H675.5" fill="none" stroke="#000" stroke-width="1.6"/>
<rect x="667.7" y="270.94" width="10" height="5.29" fill="#fff" stroke="#000" stroke-width="1.75" stroke-linejoin="round"/>
<path d="M667.7 272.78H677.7" stroke="#000" stroke-width="1.75"/>
<text x="672.7" y="262.6" text-anchor="middle" font-size="8.0" fill="#222">a</text>
<text x="638.8" y="181.3" text-anchor="middle" font-size="9.0" font-weight="bold">Na<tspan font-size="6.6" dy="2.2">2</tspan><tspan dy="-2.2">MoO</tspan><tspan font-size="6.6" dy="2.2">4</tspan></text>
<path d="M104.5 376.5V469H196.7" fill="none" stroke="#000" stroke-width="1.1"/>
<path d="M100.9 469H104.5M100.9 445.88H104.5M100.9 422.75H104.5M100.9 399.62H104.5M100.9 376.5H104.5M116.2 469V473M133.4 469V473M150.6 469V473M167.8 469V473M185 469V473" fill="none" stroke="#000" stroke-width="1.0"/>
<text x="99.2" y="471.3" text-anchor="end" font-size="6.7" font-weight="bold">0</text>
<text x="99.2" y="448.18" text-anchor="end" font-size="6.7" font-weight="bold">1</text>
<text x="99.2" y="425.05" text-anchor="end" font-size="6.7" font-weight="bold">2</text>
<text x="99.2" y="401.93" text-anchor="end" font-size="6.7" font-weight="bold">3</text>
<text x="99.2" y="378.8" text-anchor="end" font-size="6.7" font-weight="bold">4</text>
<text transform="translate(119 479.1) rotate(-45)" text-anchor="end" font-size="7.0" font-weight="bold">0</text>
<text transform="translate(136.2 479.1) rotate(-45)" text-anchor="end" font-size="7.0" font-weight="bold">0.1</text>
<text transform="translate(153.4 479.1) rotate(-45)" text-anchor="end" font-size="7.0" font-weight="bold">0.5</text>
<text transform="translate(170.6 479.1) rotate(-45)" text-anchor="end" font-size="7.0" font-weight="bold">1</text>
<text transform="translate(187.8 479.1) rotate(-45)" text-anchor="end" font-size="7.0" font-weight="bold">5</text>
<path d="M116.2 423.91V406.33M113.4 406.33H119M116.2 457.9V463.68M113.4 463.68H119" fill="none" stroke="#000" stroke-width="1.6"/>
<rect x="111.2" y="423.91" width="10" height="33.99" fill="#fff" stroke="#000" stroke-width="1.75" stroke-linejoin="round"/>
<path d="M111.2 442.64H121.2" stroke="#000" stroke-width="1.75"/>
<text x="116.2" y="403" text-anchor="middle" font-size="8.0" fill="#222">c</text>
<path d="M133.4 458.59V405.18M130.6 405.18H136.2M133.4 465.07V468.07M130.6 468.07H136.2" fill="none" stroke="#000" stroke-width="1.6"/>
<rect x="128.4" y="458.59" width="10" height="6.48" fill="#fff" stroke="#000" stroke-width="1.75" stroke-linejoin="round"/>
<path d="M128.4 460.91H138.4" stroke="#000" stroke-width="1.75"/>
<text x="133.4" y="403" text-anchor="middle" font-size="8.0" fill="#222">b</text>
<path d="M150.6 457.67V453.51M147.8 453.51H153.4M150.6 460.68V463.91M147.8 463.91H153.4" fill="none" stroke="#000" stroke-width="1.6"/>
<rect x="145.6" y="457.67" width="10" height="3.01" fill="#fff" stroke="#000" stroke-width="1.75" stroke-linejoin="round"/>
<path d="M145.6 459.06H155.6" stroke="#000" stroke-width="1.75"/>
<text x="150.6" y="450.3" text-anchor="middle" font-size="8.0" fill="#222">b</text>
<path d="M167.8 458.36V453.04M165 453.04H170.6M167.8 464.14V468.77M165 468.77H170.6" fill="none" stroke="#000" stroke-width="1.6"/>
<rect x="162.8" y="458.36" width="10" height="5.78" fill="#fff" stroke="#000" stroke-width="1.75" stroke-linejoin="round"/>
<path d="M162.8 460.44H172.8" stroke="#000" stroke-width="1.75"/>
<text x="167.8" y="449.6" text-anchor="middle" font-size="8.0" fill="#222">b</text>
<path d="M185 462.06V459.98M182.2 459.98H187.8M185 467.38V468.54M182.2 468.54H187.8" fill="none" stroke="#000" stroke-width="1.6"/>
<rect x="180" y="462.06" width="10" height="5.32" fill="#fff" stroke="#000" stroke-width="1.75" stroke-linejoin="round"/>
<path d="M180 464.84H190" stroke="#000" stroke-width="1.75"/>
<text x="185" y="456.9" text-anchor="middle" font-size="8.0" fill="#222">a</text>
<text x="151" y="365.2" text-anchor="middle" font-size="9.0" font-weight="bold">Dentamet</text>
<path d="M210.5 376.5V469H302.7" fill="none" stroke="#000" stroke-width="1.1"/>
<path d="M206.9 469H210.5M206.9 445.88H210.5M206.9 422.75H210.5M206.9 399.62H210.5M206.9 376.5H210.5M222 469V473M239.25 469V473M256.5 469V473M273.75 469V473M291 469V473" fill="none" stroke="#000" stroke-width="1.0"/>
<text x="205.2" y="471.3" text-anchor="end" font-size="6.7" font-weight="bold">0</text>
<text x="205.2" y="448.18" text-anchor="end" font-size="6.7" font-weight="bold">1</text>
<text x="205.2" y="425.05" text-anchor="end" font-size="6.7" font-weight="bold">2</text>
<text x="205.2" y="401.93" text-anchor="end" font-size="6.7" font-weight="bold">3</text>
<text x="205.2" y="378.8" text-anchor="end" font-size="6.7" font-weight="bold">4</text>
<text transform="translate(224.8 479.1) rotate(-45)" text-anchor="end" font-size="7.0" font-weight="bold">0</text>
<text transform="translate(242.05 479.1) rotate(-45)" text-anchor="end" font-size="7.0" font-weight="bold">0.1</text>
<text transform="translate(259.3 479.1) rotate(-45)" text-anchor="end" font-size="7.0" font-weight="bold">0.5</text>
<text transform="translate(276.55 479.1) rotate(-45)" text-anchor="end" font-size="7.0" font-weight="bold">1</text>
<text transform="translate(293.8 479.1) rotate(-45)" text-anchor="end" font-size="7.0" font-weight="bold">5</text>
<path d="M222 451.43V447.96M219.2 447.96H224.8M222 459.06V461.6M219.2 461.6H224.8" fill="none" stroke="#000" stroke-width="1.6"/>
<rect x="217" y="451.43" width="10" height="7.63" fill="#fff" stroke="#000" stroke-width="1.75" stroke-linejoin="round"/>
<path d="M217 455.82H227" stroke="#000" stroke-width="1.75"/>
<text x="222" y="444.9" text-anchor="middle" font-size="8.0" fill="#222">bc</text>
<path d="M239.25 444.49V436.86M236.45 436.86H242.05M239.25 455.82V463.45M236.45 463.45H242.05" fill="none" stroke="#000" stroke-width="1.6"/>
<rect x="234.25" y="444.49" width="10" height="11.33" fill="#fff" stroke="#000" stroke-width="1.75" stroke-linejoin="round"/>
<path d="M234.25 449.34H244.25" stroke="#000" stroke-width="1.75"/>
<text x="239.25" y="432.2" text-anchor="middle" font-size="8.0" fill="#222">c</text>
<path d="M256.5 445.18V444.49M253.7 444.49H259.3M256.5 461.83V463.68M253.7 463.68H259.3" fill="none" stroke="#000" stroke-width="1.6"/>
<rect x="251.5" y="445.18" width="10" height="16.65" fill="#fff" stroke="#000" stroke-width="1.75" stroke-linejoin="round"/>
<path d="M251.5 446.57H261.5" stroke="#000" stroke-width="1.75"/>
<text x="256.5" y="441" text-anchor="middle" font-size="8.0" fill="#222">bc</text>
<path d="M273.75 460.68V457.21M270.95 457.21H276.55M273.75 462.99V464.38M270.95 464.38H276.55" fill="none" stroke="#000" stroke-width="1.6"/>
<rect x="268.75" y="460.68" width="10" height="2.31" fill="#fff" stroke="#000" stroke-width="1.75" stroke-linejoin="round"/>
<path d="M268.75 462.06H278.75" stroke="#000" stroke-width="1.75"/>
<text x="273.75" y="451.9" text-anchor="middle" font-size="8.0" fill="#222">ab</text>
<path d="M291 468.31V468.07M288.2 468.07H293.8M291 468.77V469M288.2 469H293.8" fill="none" stroke="#000" stroke-width="1.6"/>
<rect x="286" y="468.31" width="10" height="0.46" fill="#fff" stroke="#000" stroke-width="1.75" stroke-linejoin="round"/>
<path d="M286 468.54H296" stroke="#000" stroke-width="1.75"/>
<text x="291" y="465" text-anchor="middle" font-size="8.0" fill="#222">a</text>
<text x="257" y="365.2" text-anchor="middle" font-size="9.0" font-weight="bold">Dentament EF</text>
<path d="M317.5 376.5V469H409.7" fill="none" stroke="#000" stroke-width="1.1"/>
<path d="M313.9 469H317.5M313.9 445.88H317.5M313.9 422.75H317.5M313.9 399.62H317.5M313.9 376.5H317.5M328.5 469V473M345.8 469V473M363.1 469V473M380.4 469V473M397.7 469V473" fill="none" stroke="#000" stroke-width="1.0"/>
<text x="312.2" y="471.3" text-anchor="end" font-size="6.7" font-weight="bold">0</text>
<text x="312.2" y="448.18" text-anchor="end" font-size="6.7" font-weight="bold">1</text>
<text x="312.2" y="425.05" text-anchor="end" font-size="6.7" font-weight="bold">2</text>
<text x="312.2" y="401.93" text-anchor="end" font-size="6.7" font-weight="bold">3</text>
<text x="312.2" y="378.8" text-anchor="end" font-size="6.7" font-weight="bold">4</text>
<text transform="translate(331.3 479.1) rotate(-45)" text-anchor="end" font-size="7.0" font-weight="bold">0</text>
<text transform="translate(348.6 479.1) rotate(-45)" text-anchor="end" font-size="7.0" font-weight="bold">0.1</text>
<text transform="translate(365.9 479.1) rotate(-45)" text-anchor="end" font-size="7.0" font-weight="bold">0.5</text>
<text transform="translate(383.2 479.1) rotate(-45)" text-anchor="end" font-size="7.0" font-weight="bold">1</text>
<text transform="translate(400.5 479.1) rotate(-45)" text-anchor="end" font-size="7.0" font-weight="bold">5</text>
<path d="M328.5 410.03V399.16M325.7 399.16H331.3M328.5 436.16V448.19M325.7 448.19H331.3" fill="none" stroke="#000" stroke-width="1.6"/>
<rect x="323.5" y="410.03" width="10" height="26.13" fill="#fff" stroke="#000" stroke-width="1.75" stroke-linejoin="round"/>
<path d="M323.5 424.6H333.5" stroke="#000" stroke-width="1.75"/>
<text x="328.5" y="395.5" text-anchor="middle" font-size="8.0" fill="#222">c</text>
<path d="M345.8 435.93V426.91M343 426.91H348.6M345.8 445.18V449.11M343 449.11H348.6" fill="none" stroke="#000" stroke-width="1.6"/>
<rect x="340.8" y="435.93" width="10" height="9.25" fill="#fff" stroke="#000" stroke-width="1.75" stroke-linejoin="round"/>
<path d="M340.8 440.79H350.8" stroke="#000" stroke-width="1.75"/>
<text x="345.8" y="424.4" text-anchor="middle" font-size="8.0" fill="#222">c</text>
<path d="M363.1 442.41V435.24M360.3 435.24H365.9M363.1 452.35V455.36M360.3 455.36H365.9" fill="none" stroke="#000" stroke-width="1.6"/>
<rect x="358.1" y="442.41" width="10" height="9.94" fill="#fff" stroke="#000" stroke-width="1.75" stroke-linejoin="round"/>
<path d="M358.1 449.34H368.1" stroke="#000" stroke-width="1.75"/>
<text x="363.1" y="431.6" text-anchor="middle" font-size="8.0" fill="#222">b</text>
<path d="M380.4 448.19V437.55M377.6 437.55H383.2M380.4 453.27V457.9M377.6 457.9H383.2" fill="none" stroke="#000" stroke-width="1.6"/>
<rect x="375.4" y="448.19" width="10" height="5.09" fill="#fff" stroke="#000" stroke-width="1.75" stroke-linejoin="round"/>
<path d="M375.4 450.73H385.4" stroke="#000" stroke-width="1.75"/>
<text x="380.4" y="434.7" text-anchor="middle" font-size="8.0" fill="#222">b</text>
<path d="M397.7 454.66V450.73M394.9 450.73H400.5M397.7 459.98V460.91M394.9 460.91H400.5" fill="none" stroke="#000" stroke-width="1.6"/>
<rect x="392.7" y="454.66" width="10" height="5.32" fill="#fff" stroke="#000" stroke-width="1.75" stroke-linejoin="round"/>
<path d="M392.7 457.44H402.7" stroke="#000" stroke-width="1.75"/>
<text x="397.7" y="447.4" text-anchor="middle" font-size="8.0" fill="#222">a</text>
<text x="364" y="365.2" text-anchor="middle" font-size="9.0" font-weight="bold">ND01</text>
<path d="M423 378.5V470.5H515.2" fill="none" stroke="#000" stroke-width="1.1"/>
<path d="M419.4 470.5H423M419.4 447.5H423M419.4 424.5H423M419.4 401.5H423M419.4 378.5H423M434.5 470.5V474.5M451.7 470.5V474.5M468.9 470.5V474.5M486.1 470.5V474.5M503.3 470.5V474.5" fill="none" stroke="#000" stroke-width="1.0"/>
<text x="417.7" y="472.8" text-anchor="end" font-size="6.7" font-weight="bold">0</text>
<text x="417.7" y="449.8" text-anchor="end" font-size="6.7" font-weight="bold">1</text>
<text x="417.7" y="426.8" text-anchor="end" font-size="6.7" font-weight="bold">2</text>
<text x="417.7" y="403.8" text-anchor="end" font-size="6.7" font-weight="bold">3</text>
<text x="417.7" y="380.8" text-anchor="end" font-size="6.7" font-weight="bold">4</text>
<text transform="translate(437.3 480.6) rotate(-45)" text-anchor="end" font-size="7.0" font-weight="bold">0</text>
<text transform="translate(454.5 480.6) rotate(-45)" text-anchor="end" font-size="7.0" font-weight="bold">0.1</text>
<text transform="translate(471.7 480.6) rotate(-45)" text-anchor="end" font-size="7.0" font-weight="bold">0.5</text>
<text transform="translate(488.9 480.6) rotate(-45)" text-anchor="end" font-size="7.0" font-weight="bold">1</text>
<text transform="translate(506.1 480.6) rotate(-45)" text-anchor="end" font-size="7.0" font-weight="bold">5</text>
<path d="M434.5 456.93V453.94M431.7 453.94H437.3M434.5 460.84V464.29M431.7 464.29H437.3" fill="none" stroke="#000" stroke-width="1.6"/>
<rect x="429.5" y="456.93" width="10" height="3.91" fill="#fff" stroke="#000" stroke-width="1.75" stroke-linejoin="round"/>
<path d="M429.5 459H439.5" stroke="#000" stroke-width="1.75"/>
<text x="434.5" y="450.9" text-anchor="middle" font-size="8.0" fill="#222">c</text>
<path d="M451.7 456.47V451.41M448.9 451.41H454.5M451.7 460.61V462.22M448.9 462.22H454.5" fill="none" stroke="#000" stroke-width="1.6"/>
<rect x="446.7" y="456.47" width="10" height="4.14" fill="#fff" stroke="#000" stroke-width="1.75" stroke-linejoin="round"/>
<path d="M446.7 458.31H456.7" stroke="#000" stroke-width="1.75"/>
<text x="451.7" y="447.9" text-anchor="middle" font-size="8.0" fill="#222">c</text>
<path d="M468.9 468.89V468.2M466.1 468.2H471.7M468.9 470.04V470.5M466.1 470.5H471.7" fill="none" stroke="#000" stroke-width="1.6"/>
<rect x="463.9" y="468.89" width="10" height="1.15" fill="#fff" stroke="#000" stroke-width="1.75" stroke-linejoin="round"/>
<path d="M463.9 469.58H473.9" stroke="#000" stroke-width="1.75"/>
<text x="468.9" y="464.7" text-anchor="middle" font-size="8.0" fill="#222">ab</text>
<path d="M486.1 467.51V466.82M483.3 466.82H488.9M486.1 469.35V470.5M483.3 470.5H488.9" fill="none" stroke="#000" stroke-width="1.6"/>
<rect x="481.1" y="467.51" width="10" height="1.84" fill="#fff" stroke="#000" stroke-width="1.75" stroke-linejoin="round"/>
<path d="M481.1 468.43H491.1" stroke="#000" stroke-width="1.75"/>
<text x="486.1" y="463.6" text-anchor="middle" font-size="8.0" fill="#222">b</text>
<path d="M503.3 470.04V469.81M500.5 469.81H506.1M503.3 470.5V470.5M500.5 470.5H506.1" fill="none" stroke="#000" stroke-width="1.6"/>
<rect x="498.3" y="470.04" width="10" height="0.46" fill="#fff" stroke="#000" stroke-width="1.75" stroke-linejoin="round"/>
<path d="M498.3 470.27H508.3" stroke="#000" stroke-width="1.75"/>
<text x="503.3" y="465.7" text-anchor="middle" font-size="8.0" fill="#222">a</text>
<text x="469.5" y="365.2" text-anchor="middle" font-size="9.0" font-weight="bold">CuSO<tspan font-size="6.6" dy="2.2">4</tspan><tspan dy="-2.2"> • 5H</tspan><tspan font-size="6.6" dy="2.2">2</tspan><tspan dy="-2.2">O</tspan></text>
<path d="M529 378.5V470.5H621.2" fill="none" stroke="#000" stroke-width="1.1"/>
<path d="M525.4 470.5H529M525.4 447.5H529M525.4 424.5H529M525.4 401.5H529M525.4 378.5H529M540.2 470.5V474.5M557.5 470.5V474.5M574.8 470.5V474.5M592.1 470.5V474.5M609.4 470.5V474.5" fill="none" stroke="#000" stroke-width="1.0"/>
<text x="523.7" y="472.8" text-anchor="end" font-size="6.7" font-weight="bold">0</text>
<text x="523.7" y="449.8" text-anchor="end" font-size="6.7" font-weight="bold">1</text>
<text x="523.7" y="426.8" text-anchor="end" font-size="6.7" font-weight="bold">2</text>
<text x="523.7" y="403.8" text-anchor="end" font-size="6.7" font-weight="bold">3</text>
<text x="523.7" y="380.8" text-anchor="end" font-size="6.7" font-weight="bold">4</text>
<text transform="translate(543 480.6) rotate(-45)" text-anchor="end" font-size="7.0" font-weight="bold">0</text>
<text transform="translate(560.3 480.6) rotate(-45)" text-anchor="end" font-size="7.0" font-weight="bold">0.1</text>
<text transform="translate(577.6 480.6) rotate(-45)" text-anchor="end" font-size="7.0" font-weight="bold">0.5</text>
<text transform="translate(594.9 480.6) rotate(-45)" text-anchor="end" font-size="7.0" font-weight="bold">1</text>
<text transform="translate(612.2 480.6) rotate(-45)" text-anchor="end" font-size="7.0" font-weight="bold">5</text>
<path d="M540.2 450.49V446.81M537.4 446.81H543M540.2 459.69V460.61M537.4 460.61H543" fill="none" stroke="#000" stroke-width="1.6"/>
<rect x="535.2" y="450.49" width="10" height="9.2" fill="#fff" stroke="#000" stroke-width="1.75" stroke-linejoin="round"/>
<path d="M535.2 454.86H545.2" stroke="#000" stroke-width="1.75"/>
<text x="540.2" y="442.7" text-anchor="middle" font-size="8.0" fill="#222">b</text>
<path d="M557.5 464.29V461.07M554.7 461.07H560.3M557.5 468.2V469.58M554.7 469.58H560.3" fill="none" stroke="#000" stroke-width="1.6"/>
<rect x="552.5" y="464.29" width="10" height="3.91" fill="#fff" stroke="#000" stroke-width="1.75" stroke-linejoin="round"/>
<path d="M552.5 466.13H562.5" stroke="#000" stroke-width="1.75"/>
<text x="557.5" y="457.4" text-anchor="middle" font-size="8.0" fill="#222">ab</text>
<path d="M574.8 469.35V457.16M572 457.16H577.6M574.8 470.5V470.5M572 470.5H577.6" fill="none" stroke="#000" stroke-width="1.6"/>
<rect x="569.8" y="469.35" width="10" height="1.15" fill="#fff" stroke="#000" stroke-width="1.75" stroke-linejoin="round"/>
<path d="M569.8 470.04H579.8" stroke="#000" stroke-width="1.75"/>
<text x="574.8" y="452.8" text-anchor="middle" font-size="8.0" fill="#222">a</text>
<path d="M592.1 469.81V461.99M589.3 461.99H594.9M592.1 470.5V470.5M589.3 470.5H594.9" fill="none" stroke="#000" stroke-width="1.6"/>
<rect x="587.1" y="469.81" width="10" height="0.69" fill="#fff" stroke="#000" stroke-width="1.75" stroke-linejoin="round"/>
<path d="M587.1 470.27H597.1" stroke="#000" stroke-width="1.75"/>
<text x="592.1" y="457.8" text-anchor="middle" font-size="8.0" fill="#222">a</text>
<path d="M609.4 456.47V447.96M606.6 447.96H612.2M609.4 469.35V470.5M606.6 470.5H612.2" fill="none" stroke="#000" stroke-width="1.6"/>
<rect x="604.4" y="456.47" width="10" height="12.88" fill="#fff" stroke="#000" stroke-width="1.75" stroke-linejoin="round"/>
<path d="M604.4 469.35H614.4" stroke="#000" stroke-width="1.75"/>
<text x="609.4" y="445.3" text-anchor="middle" font-size="8.0" fill="#222">a</text>
<text x="575.5" y="365.2" text-anchor="middle" font-size="9.0" font-weight="bold">ZnSO<tspan font-size="6.6" dy="2.2">4</tspan><tspan dy="-2.2"> • 7H</tspan><tspan font-size="6.6" dy="2.2">2</tspan><tspan dy="-2.2">O</tspan></text>
<path d="M202.5 547V639.5H294.7" fill="none" stroke="#000" stroke-width="1.1"/>
<path d="M198.9 639.5H202.5M198.9 616.38H202.5M198.9 593.25H202.5M198.9 570.12H202.5M198.9 547H202.5M213.9 639.5V643.5M231.2 639.5V643.5M248.5 639.5V643.5M265.8 639.5V643.5M283.1 639.5V643.5" fill="none" stroke="#000" stroke-width="1.0"/>
<text x="197.2" y="641.8" text-anchor="end" font-size="6.7" font-weight="bold">0</text>
<text x="197.2" y="618.67" text-anchor="end" font-size="6.7" font-weight="bold">1</text>
<text x="197.2" y="595.55" text-anchor="end" font-size="6.7" font-weight="bold">2</text>
<text x="197.2" y="572.42" text-anchor="end" font-size="6.7" font-weight="bold">3</text>
<text x="197.2" y="549.3" text-anchor="end" font-size="6.7" font-weight="bold">4</text>
<text transform="translate(216.7 649.6) rotate(-45)" text-anchor="end" font-size="7.0" font-weight="bold">0</text>
<text transform="translate(234 649.6) rotate(-45)" text-anchor="end" font-size="7.0" font-weight="bold">125</text>
<text transform="translate(251.3 649.6) rotate(-45)" text-anchor="end" font-size="7.0" font-weight="bold">250</text>
<text transform="translate(268.6 649.6) rotate(-45)" text-anchor="end" font-size="7.0" font-weight="bold">500</text>
<text transform="translate(285.9 649.6) rotate(-45)" text-anchor="end" font-size="7.0" font-weight="bold">1000</text>
<path d="M213.9 616.38V597.64M211.1 597.64H216.7M213.9 631.87V633.72M211.1 633.72H216.7" fill="none" stroke="#000" stroke-width="1.6"/>
<rect x="208.9" y="616.38" width="10" height="15.49" fill="#fff" stroke="#000" stroke-width="1.75" stroke-linejoin="round"/>
<path d="M208.9 621.46H218.9" stroke="#000" stroke-width="1.75"/>
<text x="213.9" y="595.5" text-anchor="middle" font-size="8.0" fill="#222">b</text>
<path d="M231.2 636.73V636.03M228.4 636.03H234M231.2 638.58V639.04M228.4 639.04H234" fill="none" stroke="#000" stroke-width="1.6"/>
<rect x="226.2" y="636.73" width="10" height="1.85" fill="#fff" stroke="#000" stroke-width="1.75" stroke-linejoin="round"/>
<path d="M226.2 637.65H236.2" stroke="#000" stroke-width="1.75"/>
<text x="231.2" y="633.6" text-anchor="middle" font-size="8.0" fill="#222">c</text>
<path d="M248.5 636.03V633.72M245.7 633.72H251.3M248.5 637.65V639.04M245.7 639.04H251.3" fill="none" stroke="#000" stroke-width="1.6"/>
<rect x="243.5" y="636.03" width="10" height="1.62" fill="#fff" stroke="#000" stroke-width="1.75" stroke-linejoin="round"/>
<path d="M243.5 636.96H253.5" stroke="#000" stroke-width="1.75"/>
<text x="248.5" y="631" text-anchor="middle" font-size="8.0" fill="#222">c</text>
<path d="M265.8 632.79V627.71M263 627.71H268.6M265.8 636.73V638.11M263 638.11H268.6" fill="none" stroke="#000" stroke-width="1.6"/>
<rect x="260.8" y="632.79" width="10" height="3.93" fill="#fff" stroke="#000" stroke-width="1.75" stroke-linejoin="round"/>
<path d="M260.8 634.88H270.8" stroke="#000" stroke-width="1.75"/>
<text x="265.8" y="624" text-anchor="middle" font-size="8.0" fill="#222">ac</text>
<path d="M283.1 631.17V627.01M280.3 627.01H285.9M283.1 633.49V637.65M280.3 637.65H285.9" fill="none" stroke="#000" stroke-width="1.6"/>
<rect x="278.1" y="631.17" width="10" height="2.31" fill="#fff" stroke="#000" stroke-width="1.75" stroke-linejoin="round"/>
<path d="M278.1 632.33H288.1" stroke="#000" stroke-width="1.75"/>
<text x="283.1" y="623.8" text-anchor="middle" font-size="8.0" fill="#222">ab</text>
<text x="249" y="535" text-anchor="middle" font-size="9.0" font-weight="bold">Pyrocatechol</text>
<path d="M308.5 547V639.5H400.7" fill="none" stroke="#000" stroke-width="1.1"/>
<path d="M304.9 639.5H308.5M304.9 616.38H308.5M304.9 593.25H308.5M304.9 570.12H308.5M304.9 547H308.5M319.5 639.5V643.5M336.8 639.5V643.5M354.1 639.5V643.5M371.4 639.5V643.5M388.7 639.5V643.5" fill="none" stroke="#000" stroke-width="1.0"/>
<text x="303.2" y="641.8" text-anchor="end" font-size="6.7" font-weight="bold">0</text>
<text x="303.2" y="618.67" text-anchor="end" font-size="6.7" font-weight="bold">1</text>
<text x="303.2" y="595.55" text-anchor="end" font-size="6.7" font-weight="bold">2</text>
<text x="303.2" y="572.42" text-anchor="end" font-size="6.7" font-weight="bold">3</text>
<text x="303.2" y="549.3" text-anchor="end" font-size="6.7" font-weight="bold">4</text>
<text transform="translate(322.3 649.6) rotate(-45)" text-anchor="end" font-size="7.0" font-weight="bold">0</text>
<text transform="translate(339.6 649.6) rotate(-45)" text-anchor="end" font-size="7.0" font-weight="bold">125</text>
<text transform="translate(356.9 649.6) rotate(-45)" text-anchor="end" font-size="7.0" font-weight="bold">250</text>
<text transform="translate(374.2 649.6) rotate(-45)" text-anchor="end" font-size="7.0" font-weight="bold">500</text>
<text transform="translate(391.5 649.6) rotate(-45)" text-anchor="end" font-size="7.0" font-weight="bold">1000</text>
<path d="M319.5 607.59V594.17M316.7 594.17H322.3M319.5 623.31V630.71M316.7 630.71H322.3" fill="none" stroke="#000" stroke-width="1.6"/>
<rect x="314.5" y="607.59" width="10" height="15.73" fill="#fff" stroke="#000" stroke-width="1.75" stroke-linejoin="round"/>
<path d="M314.5 621.92H324.5" stroke="#000" stroke-width="1.75"/>
<text x="319.5" y="589.6" text-anchor="middle" font-size="8.0" fill="#222">c</text>
<path d="M336.8 636.73V635.57M334 635.57H339.6M336.8 638.58V639.5M334 639.5H339.6" fill="none" stroke="#000" stroke-width="1.6"/>
<rect x="331.8" y="636.73" width="10" height="1.85" fill="#fff" stroke="#000" stroke-width="1.75" stroke-linejoin="round"/>
<path d="M331.8 637.65H341.8" stroke="#000" stroke-width="1.75"/>
<text x="336.8" y="631.9" text-anchor="middle" font-size="8.0" fill="#222">ab</text>
<path d="M354.1 637.19V636.03M351.3 636.03H356.9M354.1 639.04V639.5M351.3 639.5H356.9" fill="none" stroke="#000" stroke-width="1.6"/>
<rect x="349.1" y="637.19" width="10" height="1.85" fill="#fff" stroke="#000" stroke-width="1.75" stroke-linejoin="round"/>
<path d="M349.1 638.34H359.1" stroke="#000" stroke-width="1.75"/>
<text x="354.1" y="632.6" text-anchor="middle" font-size="8.0" fill="#222">b</text>
<path d="M371.4 636.26V635.11M368.6 635.11H374.2M371.4 638.34V639.5M368.6 639.5H374.2" fill="none" stroke="#000" stroke-width="1.6"/>
<rect x="366.4" y="636.26" width="10" height="2.08" fill="#fff" stroke="#000" stroke-width="1.75" stroke-linejoin="round"/>
<path d="M366.4 637.19H376.4" stroke="#000" stroke-width="1.75"/>
<text x="371.4" y="632.3" text-anchor="middle" font-size="8.0" fill="#222">ab</text>
<path d="M388.7 635.11V633.02M385.9 633.02H391.5M388.7 637.19V639.04M385.9 639.04H391.5" fill="none" stroke="#000" stroke-width="1.6"/>
<rect x="383.7" y="635.11" width="10" height="2.08" fill="#fff" stroke="#000" stroke-width="1.75" stroke-linejoin="round"/>
<path d="M383.7 636.03H393.7" stroke="#000" stroke-width="1.75"/>
<text x="388.7" y="627.3" text-anchor="middle" font-size="8.0" fill="#222">a</text>
<text x="355" y="535" text-anchor="middle" font-size="9.0" font-weight="bold">4-Methylcatechol</text>
<path d="M415 547V639.5H507.2" fill="none" stroke="#000" stroke-width="1.1"/>
<path d="M411.4 639.5H415M411.4 616.38H415M411.4 593.25H415M411.4 570.12H415M411.4 547H415M426.3 639.5V643.5M443.6 639.5V643.5M460.9 639.5V643.5M478.2 639.5V643.5M495.5 639.5V643.5" fill="none" stroke="#000" stroke-width="1.0"/>
<text x="409.7" y="641.8" text-anchor="end" font-size="6.7" font-weight="bold">0</text>
<text x="409.7" y="618.67" text-anchor="end" font-size="6.7" font-weight="bold">1</text>
<text x="409.7" y="595.55" text-anchor="end" font-size="6.7" font-weight="bold">2</text>
<text x="409.7" y="572.42" text-anchor="end" font-size="6.7" font-weight="bold">3</text>
<text x="409.7" y="549.3" text-anchor="end" font-size="6.7" font-weight="bold">4</text>
<text transform="translate(429.1 649.6) rotate(-45)" text-anchor="end" font-size="7.0" font-weight="bold">0</text>
<text transform="translate(446.4 649.6) rotate(-45)" text-anchor="end" font-size="7.0" font-weight="bold">750</text>
<text transform="translate(463.7 649.6) rotate(-45)" text-anchor="end" font-size="7.0" font-weight="bold">1500</text>
<text transform="translate(481 649.6) rotate(-45)" text-anchor="end" font-size="7.0" font-weight="bold">3000</text>
<text transform="translate(498.3 649.6) rotate(-45)" text-anchor="end" font-size="7.0" font-weight="bold">6000</text>
<path d="M426.3 634.41V631.64M423.5 631.64H429.1M426.3 637.19V639.04M423.5 639.04H429.1" fill="none" stroke="#000" stroke-width="1.6"/>
<rect x="421.3" y="634.41" width="10" height="2.77" fill="#fff" stroke="#000" stroke-width="1.75" stroke-linejoin="round"/>
<path d="M421.3 635.8H431.3" stroke="#000" stroke-width="1.75"/>
<text x="426.3" y="628.5" text-anchor="middle" font-size="8.0" fill="#222">b</text>
<path d="M443.6 629.56V628.63M440.8 628.63H446.4M443.6 632.56V633.26M440.8 633.26H446.4" fill="none" stroke="#000" stroke-width="1.6"/>
<rect x="438.6" y="629.56" width="10" height="3.01" fill="#fff" stroke="#000" stroke-width="1.75" stroke-linejoin="round"/>
<path d="M438.6 630.94H448.6" stroke="#000" stroke-width="1.75"/>
<text x="443.6" y="625" text-anchor="middle" font-size="8.0" fill="#222">a</text>
<path d="M460.9 628.17V627.01M458.1 627.01H463.7M460.9 629.79V631.41M458.1 631.41H463.7" fill="none" stroke="#000" stroke-width="1.6"/>
<rect x="455.9" y="628.17" width="10" height="1.62" fill="#fff" stroke="#000" stroke-width="1.75" stroke-linejoin="round"/>
<path d="M455.9 629.09H465.9" stroke="#000" stroke-width="1.75"/>
<text x="460.9" y="623.6" text-anchor="middle" font-size="8.0" fill="#222">a</text>
<path d="M478.2 628.63V628.17M475.4 628.17H481M478.2 632.1V632.79M475.4 632.79H481" fill="none" stroke="#000" stroke-width="1.6"/>
<rect x="473.2" y="628.63" width="10" height="3.47" fill="#fff" stroke="#000" stroke-width="1.75" stroke-linejoin="round"/>
<path d="M473.2 630.25H483.2" stroke="#000" stroke-width="1.75"/>
<text x="478.2" y="625" text-anchor="middle" font-size="8.0" fill="#222">a</text>
<path d="M495.5 629.33V625.62M492.7 625.62H498.3M495.5 630.94V634.18M492.7 634.18H498.3" fill="none" stroke="#000" stroke-width="1.6"/>
<rect x="490.5" y="629.33" width="10" height="1.62" fill="#fff" stroke="#000" stroke-width="1.75" stroke-linejoin="round"/>
<path d="M490.5 630.25H500.5" stroke="#000" stroke-width="1.75"/>
<text x="495.5" y="622.6" text-anchor="middle" font-size="8.0" fill="#222">a</text>
<text x="461.5" y="535" text-anchor="middle" font-size="9.0" font-weight="bold">Verbascoside</text>
<text transform="translate(121.5 145.4) rotate(-90)" font-size="12.6" font-weight="bold">Assorbance, OD<tspan font-size="9.6" dy="2.6">595</tspan></text>
<text transform="translate(39 305.6) rotate(-90)" font-size="12.4" font-weight="bold">Assorbance, OD</text><text transform="translate(41.9 204.6) rotate(-90)" font-size="9.6" font-weight="bold">595</text>
<text transform="translate(82 479) rotate(-90)" font-size="12.4" font-weight="bold">Assorbance, OD</text><text transform="translate(84.9 378.4) rotate(-90)" font-size="9.6" font-weight="bold">595</text>
<text transform="translate(180 651.6) rotate(-90)" font-size="12.4" font-weight="bold">Assorbance, OD</text><text transform="translate(182.6 551.3) rotate(-90)" font-size="9.6" font-weight="bold">595</text>
<text x="92.8" y="75.6" font-size="14.7" font-weight="bold">(A)</text>
<text x="-0.2" y="251.4" font-size="14.7" font-weight="bold">(B)</text>
<text x="42.3" y="425.6" font-size="14.7" font-weight="bold">(C)</text>
<text x="140.3" y="603.5" font-size="14.7" font-weight="bold">(D)</text>
<text x="278" y="141.4" font-size="12.3" font-weight="bold">Concentration,mg/L</text>
<text x="279.6" y="327.2" font-size="12.3" font-weight="bold">Concentration, mg/L</text>
<text x="278.6" y="510.2" font-size="12.3" font-weight="bold">Concentration, v/v %</text>
<text x="279.6" y="682.2" font-size="12.3" font-weight="bold">Concentration, mg/L</text>
</svg>
</body></html>
